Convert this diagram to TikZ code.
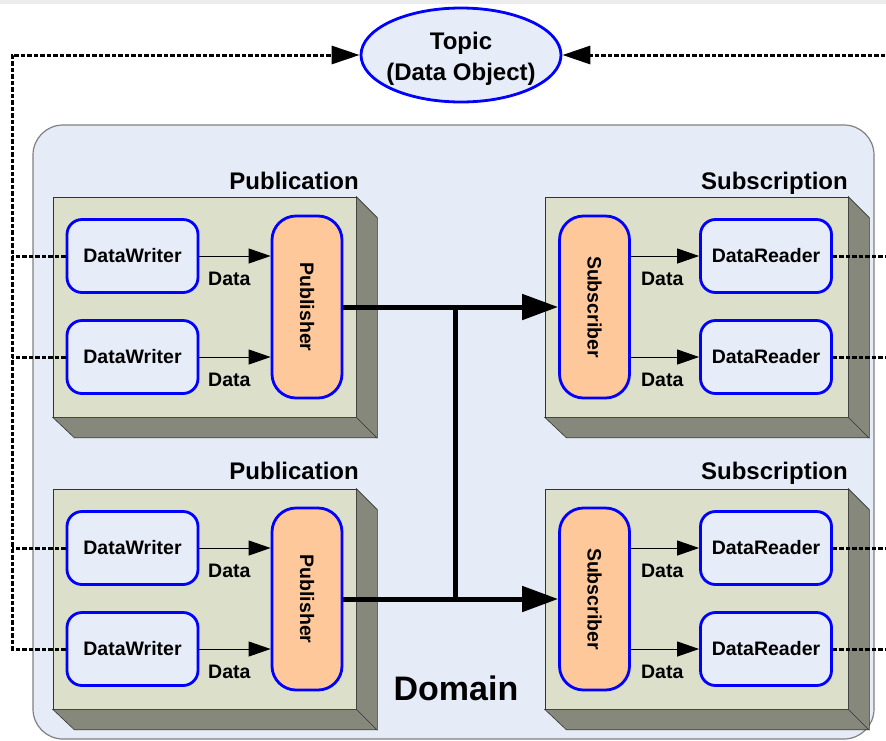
\documentclass[tikz,border=0pt]{standalone}
\usepackage{fontspec}
\setmainfont{Liberation Sans}
\usepackage{graphicx}
\usepackage{xcolor}
\usepackage{tikz}
\usetikzlibrary{positioning}
\usetikzlibrary{shapes.geometric}
\usetikzlibrary{arrows.meta}

\definecolor{domainblue}{HTML}{E6ECF7}
\definecolor{boxblue}{HTML}{E6ECF8}
\definecolor{facegreen}{HTML}{DCDFCA}
\definecolor{sidegray}{HTML}{85887B}
\definecolor{peach}{HTML}{FEC89A}

\tikzset{
  domainbox/.style={draw=gray, line width=1.2pt, fill=domainblue, rounded corners=30pt,
    minimum width=841pt, minimum height=614pt, inner sep=0pt},
  front/.style={draw=black!80, line width=0.6pt, fill=facegreen,
    minimum width=303pt, minimum height=220pt, inner sep=0pt},
  side/.style={draw=black!80, line width=0.6pt, fill=sidegray},
  endpoint/.style={draw=blue, line width=2.8pt, fill=boxblue, rounded corners=15pt,
    minimum width=131pt, minimum height=73pt, font=\fontsize{19.5}{22}\selectfont\bfseries},
  entity/.style={draw=blue, line width=2.8pt, fill=peach, rounded corners=24pt, inner sep=0pt,
    minimum width=70pt, minimum height=182pt, font=\fontsize{19.5}{22}\selectfont\bfseries},
  topicnode/.style={ellipse, draw=blue, line width=2.8pt, fill=boxblue, inner xsep=-4pt, inner ysep=0pt,
    minimum width=200pt, minimum height=94pt, align=center,
    font=\fontsize{24}{31}\selectfont\bfseries},
  title/.style={anchor=base east, inner sep=0pt, font=\fontsize{24}{28}\selectfont\bfseries},
  datalabel/.style={font=\fontsize{19.5}{22}\selectfont\bfseries},
  dataflow/.style={line width=1pt, -{Triangle[length=22pt,width=15pt]}},
  bus/.style={line width=5pt},
  busarrow/.style={bus, -{Triangle[length=36pt,width=25pt]}},
  link/.style={line width=3pt, dash pattern=on 4.5pt off 2pt},
  linkarrow/.style={link, -{Triangle[length=28pt,width=18pt]}}
}

\begin{document}
\begin{tikzpicture}[x=1pt, y=-1pt]
  \useasboundingbox (0,0) rectangle (886,740);
  \fill[gray!15] (0,0) rectangle (886,4);

  % Domain
  \node[domainbox] (domain) at (453.5,432) {};
  \node[font=\fontsize{34}{40}\selectfont\bfseries] (domainlabel) at (456,688) {Domain};

  % Topic
  \node[topicnode] (topic) at (461,55) {\rule{0pt}{24pt}Topic\\(Data Object)};

  % Publications and subscriptions
  \node[front] (pubA) at (204.5,307) {};
  \node[front] (subA) at (696.5,307) {};
  \node[front] (pubB) at (204.5,599) {};
  \node[front] (subB) at (696.5,599) {};
  \draw[side] (pubA.north east) -- ++(21,21) -- ++(0,220) -- ++(-303,0) -- (pubA.south west) -- (pubA.south east) -- cycle (pubA.south east) -- ++(21,21);
  \draw[side] (subA.north east) -- ++(21,21) -- ++(0,220) -- ++(-303,0) -- (subA.south west) -- (subA.south east) -- cycle (subA.south east) -- ++(21,21);
  \draw[side] (pubB.north east) -- ++(21,21) -- ++(0,220) -- ++(-303,0) -- (pubB.south west) -- (pubB.south east) -- cycle (pubB.south east) -- ++(21,21);
  \draw[side] (subB.north east) -- ++(21,21) -- ++(0,220) -- ++(-303,0) -- (subB.south west) -- (subB.south east) -- cycle (subB.south east) -- ++(21,21);
  \node[title] (pubAlabel) at (359,189) {Publication};
  \node[title] (subAlabel) at (848,189) {Subscription};
  \node[title] (pubBlabel) at (359,479) {Publication};
  \node[title] (subBlabel) at (848,479) {Subscription};

  % Writers, readers, publishers, subscribers
  \node[entity] (pA) at (307,307) {\rotatebox{-90}{Publisher}};
  \node[entity] (pB) at (307,599) {\rotatebox{-90}{Publisher}};
  \node[entity] (sA) at (594.5,307) {\rotatebox{-90}{Subscriber}};
  \node[entity] (sB) at (594.5,599) {\rotatebox{-90}{Subscriber}};
  \node[endpoint] (dwA1) at (132.5,256) {DataWriter};
  \node[endpoint] (dwA2) at (132.5,357) {DataWriter};
  \node[endpoint] (dwB1) at (132.5,548) {DataWriter};
  \node[endpoint] (dwB2) at (132.5,649) {DataWriter};
  \node[endpoint] (drA1) at (766,256) {DataReader};
  \node[endpoint] (drA2) at (766,357) {DataReader};
  \node[endpoint] (drB1) at (766,548) {DataReader};
  \node[endpoint] (drB2) at (766,649) {DataReader};

  % Data flow
  \draw[dataflow] (dwA1.east) -- (dwA1.east -| pA.west) node[datalabel, pos=0.42, below=12pt] {Data};
  \draw[dataflow] (dwA2.east) -- (dwA2.east -| pA.west) node[datalabel, pos=0.42, below=12pt] {Data};
  \draw[dataflow] (dwB1.east) -- (dwB1.east -| pB.west) node[datalabel, pos=0.42, below=12pt] {Data};
  \draw[dataflow] (dwB2.east) -- (dwB2.east -| pB.west) node[datalabel, pos=0.42, below=12pt] {Data};
  \draw[dataflow] (drA1.west -| sA.east) -- (drA1.west) node[datalabel, pos=0.46, below=12pt] {Data};
  \draw[dataflow] (drA2.west -| sA.east) -- (drA2.west) node[datalabel, pos=0.46, below=12pt] {Data};
  \draw[dataflow] (drB1.west -| sB.east) -- (drB1.west) node[datalabel, pos=0.46, below=12pt] {Data};
  \draw[dataflow] (drB2.west -| sB.east) -- (drB2.west) node[datalabel, pos=0.46, below=12pt] {Data};

  % Transport
  \coordinate (busA) at (455,307);
  \coordinate (busB) at (455,599);
  \draw[busarrow] (pA.east) -- (sA.west);
  \draw[busarrow] (pB.east) -- (sB.west);
  \draw[bus] (busA) -- (busB);

  % Topic links
  \coordinate (ltop) at (12,55);
  \coordinate (rtop) at (900,55);
  \draw[linkarrow] (dwB2.west) -| (ltop) -- (topic.west);
  \draw[link] (dwA1.west) -- (dwA1.west -| ltop);
  \draw[link] (dwA2.west) -- (dwA2.west -| ltop);
  \draw[link] (dwB1.west) -- (dwB1.west -| ltop);
  \draw[linkarrow] (drB2.east) -| (rtop) -- (topic.east);
  \draw[link] (drA1.east) -- (drA1.east -| rtop);
  \draw[link] (drA2.east) -- (drA2.east -| rtop);
  \draw[link] (drB1.east) -- (drB1.east -| rtop);

\end{tikzpicture}
\end{document}
